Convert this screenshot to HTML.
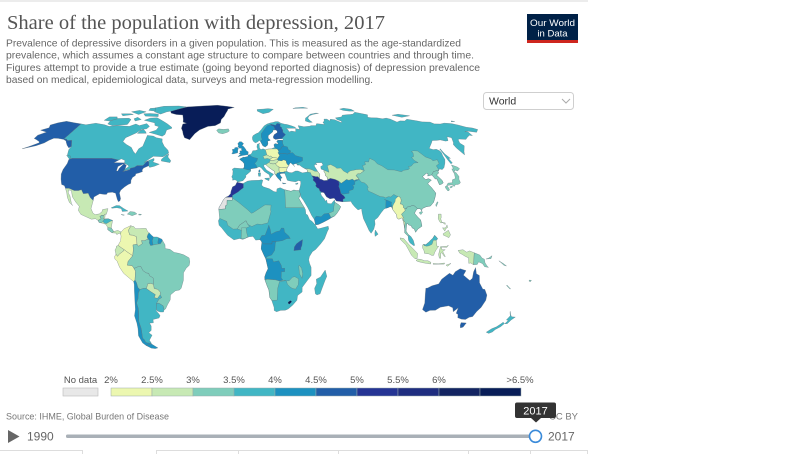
<!DOCTYPE html>
<html><head><meta charset="utf-8"><title>Share of the population with depression, 2017</title>
<style>html,body{margin:0;padding:0;background:#fff;}svg{display:block;}</style></head>
<body>
<svg id="root" width="800" height="454" viewBox="0 0 800 454" xmlns="http://www.w3.org/2000/svg" font-family="'Liberation Sans', sans-serif">
<rect width="800" height="454" fill="#fff"/>
<rect x="0" y="0" width="588" height="2" fill="#ececec"/>
<g id="map" stroke="#5d6d75" stroke-width="0.4" stroke-opacity="0.75" stroke-linejoin="round"></g>
<text x="7" y="29" font-family="'Liberation Serif', serif" font-size="20" fill="#555" textLength="378" lengthAdjust="spacingAndGlyphs">Share of the population with depression, 2017</text>
<g font-size="10.5" fill="#666">
<text x="6" y="46.5" textLength="455" lengthAdjust="spacingAndGlyphs">Prevalence of depressive disorders in a given population. This is measured as the age-standardized</text>
<text x="6" y="58.7" textLength="468" lengthAdjust="spacingAndGlyphs">prevalence, which assumes a constant age structure to compare between countries and through time.</text>
<text x="6" y="70.9" textLength="474" lengthAdjust="spacingAndGlyphs">Figures attempt to provide a true estimate (going beyond reported diagnosis) of depression prevalence</text>
<text x="6" y="83.1" textLength="367" lengthAdjust="spacingAndGlyphs">based on medical, epidemiological data, surveys and meta-regression modelling.</text>
</g>
<rect x="527" y="14" width="51" height="29" fill="#002147"/>
<rect x="527" y="40" width="51" height="3" fill="#ce261e"/>
<text x="552.5" y="26" font-size="9.5" fill="#fff" text-anchor="middle" textLength="45" lengthAdjust="spacingAndGlyphs">Our World</text>
<text x="552.5" y="36.5" font-size="9.5" fill="#fff" text-anchor="middle">in Data</text>
<rect x="483.5" y="92.5" width="90" height="17" rx="3" fill="#fff" stroke="#cfcfcf"/>
<text x="489" y="104.5" font-size="10.5" fill="#333">World</text>
<polyline points="562,99 566,103 570,99" fill="none" stroke="#aaa" stroke-width="1"/>
<g font-size="9.5" fill="#555" text-anchor="middle">
<text x="80.5" y="383">No data</text>
<text x="111" y="383">2%</text>
<text x="152" y="383">2.5%</text>
<text x="193" y="383">3%</text>
<text x="234" y="383">3.5%</text>
<text x="275" y="383">4%</text>
<text x="316" y="383">4.5%</text>
<text x="357" y="383">5%</text>
<text x="398" y="383">5.5%</text>
<text x="439" y="383">6%</text>
<text x="520" y="383">&gt;6.5%</text>
</g>
<rect x="63" y="388" width="35" height="8" fill="#e8e8e8" stroke="#bbb" stroke-width="0.6"/>
<g stroke="#9aa" stroke-width="0.5">
<rect x="111" y="388" width="41" height="8" fill="#ecf7b0"/>
<rect x="152" y="388" width="41" height="8" fill="#c7e9b4"/>
<rect x="193" y="388" width="41" height="8" fill="#7fcdbb"/>
<rect x="234" y="388" width="41" height="8" fill="#41b6c4"/>
<rect x="275" y="388" width="41" height="8" fill="#1d91c0"/>
<rect x="316" y="388" width="41" height="8" fill="#225ea8"/>
<rect x="357" y="388" width="41" height="8" fill="#253494"/>
<rect x="398" y="388" width="41" height="8" fill="#1f2d80"/>
<rect x="439" y="388" width="41" height="8" fill="#132462"/>
<rect x="480" y="388" width="41" height="8" fill="#081d58"/>
</g>
<text x="6" y="419.5" font-size="9.5" fill="#777" textLength="163" lengthAdjust="spacingAndGlyphs">Source: IHME, Global Burden of Disease</text>
<text x="578" y="419.5" font-size="9.5" fill="#777" text-anchor="end">CC BY</text>
<rect x="515" y="402.5" width="41" height="15.5" rx="2" fill="#333"/>
<polygon points="531,418 541,418 536,422.5" fill="#333"/>
<text x="535.5" y="414.5" font-size="11" fill="#fff" text-anchor="middle">2017</text>
<polygon points="8,430 8,443 19.5,436.5" fill="#666"/>
<text x="27" y="440.5" font-size="12" fill="#666">1990</text>
<rect x="66" y="434.5" width="466" height="3.5" rx="1.5" fill="#a9b0b7"/>
<circle cx="535.5" cy="436.3" r="6" fill="#fff" stroke="#3a8ad9" stroke-width="1.6"/>
<text x="548" y="440.5" font-size="12" fill="#666">2017</text>
<g stroke="#ddd" stroke-width="1">
<line x1="0" y1="450.5" x2="82" y2="450.5"/>
<line x1="156" y1="450.5" x2="588" y2="450.5"/>
<line x1="82.5" y1="450" x2="82.5" y2="454"/>
<line x1="156.5" y1="450" x2="156.5" y2="454"/>
<line x1="238.5" y1="450" x2="238.5" y2="454"/>
<line x1="338.5" y1="450" x2="338.5" y2="454"/>
<line x1="468.5" y1="450" x2="468.5" y2="454"/>
<line x1="530.5" y1="450" x2="530.5" y2="454"/>
<line x1="587.5" y1="450" x2="587.5" y2="454"/>
</g>
</svg>
<script>
(function(){
var XT=[1,.9986,.9954,.99,.9822,.973,.96,.9427,.9216,.8962,.8679,.835,.7986,.7597,.7186,.6732,.6213,.5722,.5322];
var YT=[0,.062,.124,.186,.248,.31,.372,.434,.4958,.5571,.6176,.6769,.7346,.7903,.8435,.8936,.9394,.9761,1];
function P(lon,lat){var a=Math.abs(lat)/5;var i=Math.min(17,Math.floor(a));var f=a-i;var xx=XT[i]+(XT[i+1]-XT[i])*f;var yy=YT[i]+(YT[i+1]-YT[i])*f;return [246+1.62*xx*lon,248-147.9*yy*(lat<0?-1:1)];}
var C={1:'#ecf7b0',2:'#c7e9b4',3:'#7fcdbb',4:'#41b6c4',5:'#1d91c0',6:'#225ea8',7:'#253494',8:'#1f2d80',9:'#132462',10:'#081d58',w:'#ffffff',g:'#e3e3e3'};
var F=[
[10,[-73,78.4,-66,80.2,-60,82,-45,82.8,-30,83.6,-20,82.5,-12,81.5,-18,80,-18,79,-19,77,-20,74.5,-22,72.5,-22,70.2,-26,68.5,-32,68,-38,65.8,-41,63.5,-43.5,59.8,-45,60.2,-48,61,-50,63,-51.5,65,-53.5,66.8,-54,69.5,-51,70,-54.6,70.8,-55.6,72.5,-58.5,75.6,-65,76,-70.8,77]],
[6,[-141,69.6,-148,70.3,-156.8,71.3,-161.9,70.3,-166,68.9,-163.7,67.1,-168,65.6,-161,64.4,-165,62.5,-164.5,60.5,-162,59.9,-158,58.7,-157,58,-161.5,55.8,-164.8,54.5,-157,56.3,-153,57.9,-151.5,59.5,-149.5,60.7,-146,60.6,-141,60,-138,59.1,-136.5,58.1,-134,56.5,-131,55,-130,55.9,-134,59.5,-137,59.3,-139,60.2,-141,60.3]],
[4,[-141,69.6,-136,69,-129,70,-120,69,-115,68,-108,68.5,-98,68,-94,69.5,-90,68.5,-85,69.8,-81,68,-82,66.5,-86,66,-88,64,-94,61,-94,58.7,-90,57,-85,55.3,-82,53,-79.5,51.5,-79,54.5,-77,56,-77.5,60,-78,62.4,-73,62,-70,61,-65,60.3,-64,58.5,-61,56,-57,53.6,-55.8,52,-59,50,-66,50.2,-71,46.8,-65,49,-64.5,48,-65,47,-61,46,-60,45.8,-63,44.6,-66,44,-67,44.9,-67.8,47.1,-69.2,47.4,-71,45,-75,45,-76.5,44,-79,43.5,-79,42.8,-82.5,42,-83,42.3,-82.4,43,-82.5,45.3,-84.5,46.5,-89,48,-95,49,-123,49,-124.5,49,-125.5,50,-128,51,-130,54,-130,55.9,-134,59.5,-137,59.3,-139,60.2,-141,60.3]],
[4,[-61.5,66.8,-65,65.7,-64.5,63,-66,61.9,-71.5,63,-78,64.2,-73.5,65.6,-73,67.8,-77,68.6,-78.5,70.2,-89.5,72,-86,73.5,-80,73.7,-76,72.5,-71,70.9,-67,69.5,-62,67.4]],
[4,[-61,82,-70,82.8,-85,82.5,-92,81,-90,79.5,-88,78,-80,76.3,-76,78,-72,78.6,-65,80.8]],
[4,[-88,78.5,-95,79,-96,80.6,-91,81]],
[4,[-80,74.5,-92,74.8,-96,76.5,-90,76.7,-82,76.3]],
[4,[-101,69.2,-113,68.5,-118,69.5,-119,71.5,-115,73.2,-105,73.4,-102,72.5,-101,70]],
[4,[-120,71.5,-125,72,-124,74.3,-117,74.3,-115,73]],
[4,[-105,76,-113,75,-117,76.5,-108,76.5]],
[4,[-100,76,-96,78,-104,79,-110,78]],
[4,[-98,74,-100,73,-97,71.5,-93,72.5]],
[4,[-80,63.7,-87,63.6,-86,65.5,-84,66,-81,64.5]],
[4,[-59.3,47.6,-53,46.7,-52.7,47.7,-55.5,49.8,-55.6,51.5,-57.3,50.7,-59.5,48.5]],
[4,[-123.3,48.3,-125,48.9,-128.4,50.8,-125,50.3]],
[6,[-124.7,48.4,-123,49,-95,49,-89,48,-84.5,46.5,-82.5,45.3,-82.4,43,-83,42.3,-82.5,42,-79,42.8,-79,43.5,-76.5,44,-75,45,-71,45,-69.2,47.4,-67.8,47.1,-67,44.9,-70,43.7,-70.6,42.6,-70,41.7,-72,41,-74,40.5,-74,39.5,-75.5,38.5,-76,37,-75.5,35.2,-77,34.6,-79,33.3,-81,31.5,-81.4,30,-80,27,-80.1,25.8,-81,25.2,-82,26.5,-82.8,28,-83.8,29.9,-86,30.4,-89,30.2,-89.5,29.2,-91,29.2,-94,29.6,-97.2,27.8,-97.2,25.9,-99.5,27.5,-101.4,29.8,-104.5,29.6,-106.5,31.8,-108.2,31.3,-111,31.3,-114.8,32.5,-117.1,32.5,-118.5,34,-120.6,34.6,-122.5,37.5,-124,40.3,-124.5,42.8,-124,46.2]],
[2,[-117.1,32.5,-114.8,32.5,-111,31.3,-108.2,31.3,-106.5,31.8,-104.5,29.6,-101.4,29.8,-99.5,27.5,-97.2,25.9,-97.7,21.5,-96,19,-94.5,18.2,-92,18.6,-90.5,19.8,-90.3,21,-87,21.5,-87.5,18.4,-88.3,18.5,-89.1,17.8,-90.5,17.8,-91.4,17.2,-90.4,16,-92.2,15,-94,16,-96.5,15.7,-100,17,-103.5,18.3,-105.5,20.5,-105.3,22.7,-108,25,-111,27.9,-112.8,31.3,-114.7,31.7,-114.3,30,-112.8,28.5,-110.5,24,-109.5,23.2,-112,24.8,-114.2,27.7,-115.2,30]],
[2,[-92.2,15,-90.4,16,-91.4,17.2,-90.5,17.8,-89.1,17.8,-88.3,18.5,-88.2,16.5,-88.9,15.9,-86,15.9,-83.2,15,-83.5,12.5,-83.6,10.9,-82,9,-79.5,9.6,-77.4,8.7,-77.8,7.5,-78.4,8.1,-80,7.3,-80.5,8.1,-83,8.3,-85.7,10,-85.8,11.2,-87.3,12.9,-89.3,13.5,-91.4,13.9]],
[3,[-92.2,15,-90.4,16,-91.4,17.2,-90.5,17.8,-89.2,17.8,-89.2,15.9,-88.2,15.7,-89.2,14.4,-90,13.8,-91.4,13.9]],
[4,[-89.2,14.4,-88.2,15.7,-86,15.9,-83.2,15,-84.7,14.5,-86.8,13.3,-87.8,13.4]],
[3,[-83.6,10.9,-82,9,-83,8.3,-85.7,10,-85.8,11.2]],
[4,[-85,21.9,-82,23.2,-80,23.1,-77,21.5,-74.2,20.2,-77.7,19.9,-78.5,21.5,-81.5,22,-84.5,21.7]],
[3,[-74.4,18.5,-72.8,19.9,-69.9,19.6,-68.4,18.6,-71.3,17.6,-72.8,18.1]],
[3,[-78.3,18.4,-76.2,18,-77,17.8]],
[3,[-67.2,18.5,-65.6,18.4,-65.8,18,-67.2,18]],
[1,[-77.4,8.7,-75.6,10.6,-74,11.2,-71.3,12.4,-72.2,11,-72.9,9.6,-72,7.2,-70,7,-67.8,6.2,-67.3,2,-69.8,1.7,-69.5,-1,-70,-4.2,-72.9,-2.5,-75.2,-0.9,-77.4,0.4,-79,1.5,-77.5,3.9,-77.3,6.6,-77.8,7.5]],
[2,[-72,11.1,-71.4,11.7,-70,11.9,-68.5,10.5,-66,10.6,-64,10.7,-62,10.7,-61,9,-60,8.3,-60.7,7.3,-61.2,6,-60.5,4.9,-62.8,4,-63.3,3.9,-64.6,4.1,-64,2.4,-66.3,0.9,-67.3,2,-67.8,6.2,-70,7,-72,7.2,-72.9,9.6]],
[5,[-60,8.3,-58.5,7,-57.2,6,-57.9,4,-57.3,1.3,-58.9,1.3,-59.8,2.8,-59.6,4,-60.5,4.9,-61.2,6,-60.7,7.3]],
[4,[-57.2,6,-55,6,-54,5.6,-54.4,3,-54,2.2,-56,1.9,-57.3,1.3,-57.9,4]],
[5,[-54,5.6,-52,4.8,-51.6,4.1,-52.8,2.3,-54,2.2,-54.4,3]],
[2,[-80,1,-78.9,1.4,-77.4,0.4,-75.2,-0.9,-75.6,-1.6,-78.3,-3.4,-79.4,-4.6,-80.3,-3.4,-80.9,-1.1,-80.1,0]],
[1,[-81.3,-4.7,-80.3,-3.4,-79.4,-4.6,-78.3,-3.4,-75.6,-1.6,-75.2,-0.9,-72.9,-2.5,-70,-4.2,-73,-7.3,-73.5,-9.4,-70.6,-9.6,-69.6,-11,-68.7,-12.6,-69,-15,-69.5,-17.5,-70.4,-18.3,-72.5,-16.8,-76.2,-13.8,-78.4,-10.5,-79.8,-7.2,-81.1,-6]],
[3,[-69.6,-11,-68.7,-12.6,-69,-15,-69.5,-17.5,-68.7,-19,-68.2,-21.5,-67,-22.7,-65,-22.1,-62.8,-22,-62.3,-21,-61.8,-19.6,-59.9,-19.3,-58.2,-19.8,-58,-16.3,-60.2,-15.1,-60.5,-13.8,-62.1,-13.5,-64,-12.4,-65.3,-10,-66.6,-9.9,-68,-10.7]],
[3,[-73,-7.3,-70,-4.2,-69.5,-1,-69.8,1.7,-67.3,2,-66.3,0.9,-64,2.4,-64.6,4.1,-62.8,4,-60.5,4.9,-59.6,4,-59.8,2.8,-58.9,1.3,-56,1.9,-54,2.2,-52.8,2.3,-51.6,4.1,-50,1.8,-49.9,-0.3,-47,-0.7,-44.4,-2.4,-41.5,-2.9,-38.5,-3.7,-35.2,-5.4,-34.8,-7.5,-35.2,-9.5,-37.1,-11,-38.9,-13.5,-39.2,-17.6,-40.9,-21.9,-42,-22.9,-44.6,-23.3,-48,-25.6,-48.5,-28.3,-50.7,-31,-52.3,-33.2,-53.4,-33.7,-53.6,-31.5,-56,-30.1,-57.6,-30.2,-55.8,-28,-53.8,-27,-54.6,-25.6,-54.3,-24.1,-55.7,-22.6,-57.9,-22.1,-58.2,-19.8,-58,-16.3,-60.2,-15.1,-60.5,-13.8,-62.1,-13.5,-64,-12.4,-65.3,-10,-66.6,-9.9,-68,-10.7,-69.6,-11,-70.6,-9.6,-73.5,-9.4]],
[2,[-62.8,-22,-62.3,-21,-61.8,-19.6,-59.9,-19.3,-58.2,-19.8,-57.9,-22.1,-55.7,-22.6,-54.3,-24.1,-54.6,-25.6,-56.5,-27.5,-58.6,-27.1,-57.6,-25.4,-60,-24,-62.6,-22.3]],
[4,[-57.6,-30.2,-56,-30.1,-53.6,-31.5,-53.4,-33.7,-54,-34.9,-56,-34.9,-57.8,-34.4,-58.4,-33.1]],
[4,[-67,-22.7,-65,-22.1,-62.8,-22,-62.6,-22.3,-60,-24,-57.6,-25.4,-58.6,-27.1,-56.5,-27.5,-54.6,-25.6,-53.8,-27,-55.8,-28,-57.6,-30.2,-58.4,-33.1,-58.5,-34.5,-57.3,-35.9,-56.7,-36.9,-57.8,-38.2,-62,-39,-62.3,-40.8,-65,-41,-64.4,-42.6,-65.3,-45,-67.5,-46.3,-65.8,-47.7,-69,-50.5,-68.4,-52.3,-71.5,-52,-72.3,-51.5,-72.5,-50,-73.3,-49.5,-71.8,-44,-71.9,-40,-70.6,-36,-70,-33,-70.4,-30,-69,-27.5,-68.2,-24.4]],
[5,[-70.4,-18.3,-69.5,-17.5,-68.7,-19,-68.2,-21.5,-67,-22.7,-68.2,-24.4,-69,-27.5,-70.4,-30,-70,-33,-70.6,-36,-71.9,-40,-71.8,-44,-73.3,-49.5,-72.5,-50,-72.3,-51.5,-71.5,-52,-68.4,-52.3,-70,-52.9,-73,-53.5,-74.7,-52,-75.5,-48,-74,-44,-73.5,-41,-73.7,-37,-72,-33.5,-71.4,-30,-70.6,-23.5,-70.2,-20]],
[5,[-68.6,-52.6,-65.1,-54.9,-67.3,-55.3,-70,-55,-73,-53.5,-70,-52.9]],
[4,[-5.6,36,-2,36.7,0,38.7,-0.3,39.5,3.2,41.9,3,43.3,4.5,43.4,7.5,43.8,9,44.4,10.3,43.9,12.5,41.7,15.6,40,16,38,17,39,18.5,40.2,17,41,14,42.5,12.3,44.5,12.4,45.5,13.7,45.6,15,44.5,18,42.6,19.4,41.8,19.3,40.4,21,38.3,23,36.5,22.9,38,24,38.2,23,39.5,22.6,40.5,24,40.7,26,40.8,26.3,40,26.8,38.5,27.3,37,28.3,36.7,30.5,36.3,32.8,36.1,34.6,36.8,36,36.5,35.9,35.3,35.5,33.9,35,32.8,34.3,31.2,34.9,29.5,35,28,36.5,26,39,22,40,20,41.2,17.6,42.7,15.5,43.3,12.7,45,12.8,48,14,52,15.8,55.5,17.5,57,18.9,58.8,21,59.8,22.5,58.6,23.6,56.4,24.9,56.3,26.2,55.5,25.5,54,24.1,51.6,24.3,51.3,26.1,50.2,25.6,50,26.6,48.4,28.5,47.9,29.9,48.9,30.4,50.2,30.2,51.5,27.9,53.5,26.9,56.3,27.2,57.4,25.7,61.6,25.2,66.6,25.4,67.4,24,68.8,22.3,70.5,20.8,72.8,21.5,72.9,19,73.4,16,74.5,13.5,76.3,9.5,77.5,8,78.2,8.9,79.3,10.3,80.3,13,80.2,15.2,82.3,16.6,84.8,19.2,86.9,21.2,88.2,21.7,89.5,22,90.6,22.4,91.8,22.6,92.5,20.7,94.3,18.2,94.4,16.3,95.4,15.7,97.6,16.5,98.2,13.5,98.5,10.5,98.3,8.3,100.3,6.5,100.4,4.2,101.3,2.8,103.5,1.3,104.2,1.4,103.4,4.2,102.1,6.2,100.4,7.4,99.2,9.2,99.9,12.8,100.1,13.4,100.9,13.2,101.1,12.6,102.6,12.2,103.2,10.9,104.4,10.4,105.1,8.6,106.7,10.4,109.3,11.9,109.2,13.4,108.9,15.3,107.2,17,105.7,18.9,106.6,20.2,108,21.5,109.8,21.4,110.5,20.3,111,21.5,113.8,22.5,116.5,22.9,119,25,121,28,122,29.9,121.5,31,120.5,33,119,35,120.6,36.1,122.5,37,121,37.8,118.9,37.3,118,38.3,117.7,39,119.5,39.9,121.3,40.8,122.3,40.5,121.4,39.3,123.5,39.7,124.5,39.8,125.4,37.7,126.5,37.7,126.5,34.5,127.8,34.8,129.4,35.5,129.5,36.8,128.3,38.6,127.5,39.8,129.7,40.9,129.7,41.6,130.7,42.3,132,43.2,133.5,42.8,135.5,43.9,138.2,46.4,140,48.4,140.4,50.5,141.4,52.2,141.4,53.3,139.9,54.2,137.2,54,135.1,54.7,137.3,56,140.5,57.8,143,59.3,146.5,59.4,149.8,59.7,152.8,59,155,59.2,158,61.7,160.5,61,157.5,58,156,57,155.5,55,156.7,51,158.5,52.9,160,54,162,55.5,163,56.2,162,57.8,163.6,59.7,165,60.2,170,60,172.5,61,177,62.5,179,62.3,179.5,64.5,177.5,64.8,180,65,186,64.3,190.3,66,188,67,184,67.5,180,68.8,176,69.8,170.5,70.1,166,69.5,161,69.6,159.7,70.8,153,70.9,150,71.6,143,72.7,139,71.5,135,71.6,131,70.8,128.5,72.8,126,73.5,122,73,118,73.6,113,73.7,110,74,112.8,75.8,107,77,104,77.7,100,76.3,97,76,94.5,75.9,89,75.5,86.8,74.3,80.5,73.6,80.6,72.5,83.5,71.4,82.5,70.4,78.5,72.4,75,72.7,73.5,71.5,72,72.8,69.5,72.8,68.5,71.5,66.5,70.5,67,69.2,65,69.3,60.5,69.8,59,68.5,55,68.5,53.5,68.1,48.5,67.8,44,68.5,44.2,66,41,66.6,40.2,64.6,37,65,34.8,64.5,34.5,65.9,33,66.7,36,66.8,41,66.8,41.1,67.4,38.5,68.3,35,69.2,33,69.4,30,70,28,71.1,25.7,71.1,23.5,70.6,21,70.2,18,69.5,15.4,68.4,14.7,67.8,12.5,65.9,10,64,8,63.4,5.6,62.3,5,61.3,5,60,5.6,58.9,7,58,8.4,58.3,10.4,59.4,11,58.9,11.7,57.7,12.6,56.2,14.3,55.6,16,56.5,16.6,57.7,16.5,59,18.8,59.5,17.2,60.7,17.5,62.3,20,63.7,21.5,64.5,22.2,65.8,24.5,65.8,25.4,65,25.3,64.1,22.5,62.9,21.5,61.7,21.4,60.7,22.9,60,26,60.4,29,60.2,28.2,59.4,26,59.5,24.3,59.4,23.4,58.5,24.4,57.9,24,57.1,22,57.5,21,56.8,21.1,56,21.3,55.2,19.9,54.9,18.6,54.4,16,54.3,14.2,53.9,12.5,54.5,11,54,10,54.9,9.9,57.1,10.6,57.7,8.5,57.1,8.1,55.5,8.7,54,7,53.5,5,53.4,4.2,52,3.2,51.3,1.6,50.9,1.4,50.1,-1.3,49.6,-1.9,49.7,-4.6,48.6,-2.2,47.1,-1.2,46,-1.2,44.3,-1.8,43.4,-4,43.4,-8,43.7,-9.3,43,-8.8,41.9,-8.9,40,-9.5,38.8,-8.8,37.9,-8.9,37,-7.4,37.2,-6.4,36.9]],
[4,[-5.9,35.8,-2,35.1,1,36.5,3.5,36.8,8.6,36.9,10.2,37.2,11.1,36.9,10.1,34.3,11.4,33.3,15.2,32.3,17.9,30.8,19.7,30.5,20.1,32.3,22.2,32.9,25,31.8,29,30.9,31,31.6,32.3,31.3,34.2,31.3,34.9,29.5,34.3,27.8,32.6,29.9,33.6,27.2,35.5,24,37.4,21,37.5,18.6,38.5,18,39.6,15.5,41.2,14.5,43.3,12.4,44.5,10.4,46,10.7,51.1,11.9,51.3,10.4,50.5,9.2,48.5,5,46,2.2,43,-0.8,41,-2,39.2,-4.7,38.8,-6.5,39.4,-8.5,40.4,-10.5,40.6,-15,38.5,-17.6,35.4,-21.5,35.5,-24,32.8,-25.9,32.6,-28.5,30.1,-31.2,27.5,-33.2,25.6,-33.9,22.5,-34,20,-34.8,18.4,-34.1,18.2,-32.4,16.5,-28.6,15.2,-27,14.5,-22.9,13.4,-20.9,11.8,-17.3,11.7,-15.8,12.5,-13.5,13.7,-11.3,12.3,-6.1,12.2,-5.8,11.1,-3.9,9.4,-0.5,9.5,1,9.8,3,9.4,3.9,8.5,4.5,6,4.3,4.3,6.3,1.9,6.1,-2,4.7,-4,5.2,-7.5,4.4,-9.3,5.6,-11.4,6.9,-13.2,8.9,-15,10.9,-16.7,12.4,-17.2,14.9,-16.5,16.2,-16.1,18.1,-16.3,19.6,-17.1,21,-16.9,22.3,-15.9,23.7,-14.4,26.3,-13.1,27.6,-11.4,28.2,-9.8,29.6,-9.6,30.9,-8.7,33.3,-6.9,34.1]],
[7,[-5.9,35.8,-2,35.1,-1.7,34.9,-1.7,32.8,-3.7,31.6,-5,30.6,-8.7,28.7,-8.7,27.7,-13.1,27.6,-11.4,28.2,-9.8,29.6,-9.6,30.9,-8.7,33.3,-6.9,34.1]],
['g',[-13.1,27.6,-14.4,26.3,-15.9,23.7,-16.9,22.3,-17.1,21,-13,21.3,-13,23,-12,23.5,-12,26,-8.7,26,-8.7,27.7]],
[3,[-17.1,21,-16.5,16.2,-12,14.5,-11.4,12.4,-8,10.3,-5.4,10.4,-4,12.5,0,14.9,1,13,3.6,11.7,7,13.1,9.6,12.8,13.6,13.7,15.7,19.9,15.5,20.8,15.9,23.4,12,23.5,4.3,19.2,3.3,19,1.2,20.7,-4.8,25,-8.7,27.3,-8.7,26,-12,26,-12,23.5,-13,23,-13,21.3]],
[3,[-5.4,10.4,-2.8,9.6,0.4,11,2.2,11.7,1,13,0,14.9,-4,12.5]],
[3,[-3,5,-1,5,1.2,6.1,0.5,8,0,11,-2.8,11,-2.8,9.6]],
[3,[25,31.8,29,30.9,31,31.6,32.3,31.3,34.2,31.3,34.9,29.5,34.3,27.8,33.6,27.2,35.5,24,36.9,22,25,22,25,29.2]],
[5,[8.5,4.5,9.4,3.9,9.8,3,11.3,2.2,16,2.2,16.2,3.6,18.5,3.5,22.4,4,25.3,5.1,27.4,5.2,26.4,6.6,23.9,8.6,23.5,10.8,22,10.9,21,9.4,18.6,8.9,15.5,7.5,15.1,10,14.2,12.5,13.6,10.9,11.8,7,9.8,6.8,8.6,4.9]],
[5,[9.5,1,9.4,-0.5,11.1,-3.9,12.2,-5.8,13,-4.7,15.9,-3.8,17.7,-1.3,18.1,2.5,18.5,3.5,16.2,3.6,16,2.2,11.3,2.2,9.8,3]],
[5,[12.3,-6.1,13.7,-11.3,12.5,-13.5,11.7,-15.8,11.8,-17.3,13.4,-17,18.5,-17.4,21,-18,23.2,-17.6,22,-16.3,22,-13,24,-13,24,-11,22.2,-11.1,21.9,-9.5,20.3,-7,17,-7.6,16.3,-5.9,12.2,-5.8]],
[6,[29.6,-1.4,29.9,0.6,31.2,2.3,33.5,3.8,35,4.6,34.5,1.3,33.9,0.1,33.9,-1]],
[3,[11.8,-17.3,13.4,-17,18.5,-17.4,21,-18,23.2,-17.6,25,-17.8,21,-18.3,20,-22,20,-24.8,20,-28.4,16.5,-28.6,15.2,-27,14.5,-22.9,13.4,-20.9]],
[3,[25.3,-17.9,27,-17.9,29,-16,30.4,-15.6,32.9,-16.8,32.9,-20,31.3,-22.4,29.4,-22.1,28,-21.4,26,-19.8]],
[3,[33,-9.4,34.5,-11,35.3,-14,35,-16.5,33.3,-14,32.7,-10]],
[10,[27,-29.6,28.5,-28.6,29.4,-29.3,28,-30.6,27.3,-30.3]],
[4,[44,-25,43.3,-22,44.4,-19.5,44,-17,46.5,-15.8,49.2,-12,50.4,-15.5,49.5,-17.6,47.8,-22.5,47,-25,45.1,-25.6]],
[5,[-1.8,43.4,-1.2,44.3,-1.2,46,-2.2,47.1,-4.6,48.6,-1.9,49.7,-1.3,49.6,1.4,50.1,1.6,50.9,2.5,51.1,4.2,49.9,5.8,49.5,8.2,49,7.6,47.6,6,46.2,7,45.2,7.5,43.8,4.5,43.4,3,43.3,3.2,42.4,0.7,42.8]],
[1,[14.2,53.9,16,54.3,18.6,54.4,19.8,54.4,22.8,54.4,23.5,53.9,23.9,52.7,23.2,52.2,24.1,50.7,22.6,49.1,19.5,49.6,18.8,49.5,17.6,50.3,16.7,50.2,15,51,14.6,52.6]],
[2,[12.1,50.3,15,51,16.7,50.2,17.6,50.3,18.8,49.5,17,48.6,15,49,13,48.7]],
[1,[17,48.6,18.8,49.5,19.5,49.6,22.6,49.1,22.1,48.4,20,48.1,18.8,47.8,17.1,48]],
[2,[16.1,46.8,17.1,48,18.8,47.8,20,48.1,22.1,48.4,22.9,47.9,21.6,46.6,20.3,46.1,18.8,45.9,17,46.2]],
[1,[22.9,47.9,24.9,47.7,26.6,48.3,28.2,47.7,28.2,46.4,28.9,45.5,29.7,45.2,28.6,44.2,26.1,43.9,24,43.8,22.7,44.2,22,44.5,21,45.3,20.3,46.1,21.6,46.6]],
[2,[13.7,45.6,16.1,46.8,17,46.2,18.8,45.9,20.3,46.1,21,45.3,22,44.5,22.7,44.2,22.4,42.3,23,41.3,21,40.8,20.3,39.9,19.3,40.4,19.4,41.8,18,42.6,15,44.5]],
[1,[22.7,44.2,24,43.8,26.1,43.9,28.6,44.2,28,43.3,27.5,42.5,28,41.9,26.3,41.7,25,41.3,23,41.3,22.4,42.3]],
[5,[20.3,39.9,21,40.8,23,41.3,25,41.3,26.3,41.7,26,40.8,24,40.7,22.6,40.5,23,39.5,24,38.2,22.9,38,23,36.5,21,38.3,20.2,39.3]],
[5,[22.1,48.4,22.6,49.1,24.1,50.7,23.6,51.5,25.8,51.9,30,51.5,31.8,52.1,33.8,52.3,35.4,50.6,38.2,50,40.1,49.6,39.7,47.8,38.2,47.1,35,46.3,34.9,45.7,36.5,45.4,35.3,44.9,33.6,44.5,32.5,45.4,31,46.6,30,45.8,29.7,45.2,28.9,45.5,28.2,46.4,28.2,47.7,26.6,48.3,24.9,47.7,22.9,47.9]],
[5,[23.5,53.9,23.9,52.7,23.2,52.2,23.6,51.5,25.8,51.9,30,51.5,31.8,52.1,32.7,53.3,31,54,30.8,55.6,28.2,56.1,26.5,55.6,25.5,54.3]],
[5,[21.1,56,21,56.8,22,57.5,24,57.1,24.4,57.9,23.4,58.5,24.3,59.4,26,59.5,28.2,59.4,27.7,57.8,28.2,56.1,26.5,55.6,25.5,54.3,23.5,53.9,22.8,54.4,21.3,55.2]],
[5,[11,58.9,11.7,57.7,12.6,56.2,14.3,55.6,16,56.5,16.6,57.7,16.5,59,18.8,59.5,17.2,60.7,17.5,62.3,20,63.7,21.5,64.5,22.2,65.8,24,65.8,23.5,67.9,20.5,69.1,18,68.5,16.5,67.5,14.5,65.6,12.2,63.5,12,61.3,12.5,60,11.5,59.3]],
[6,[21.4,60.7,21.5,61.7,22.5,62.9,25.3,64.1,25.4,65,24.5,65.8,24,65.8,23.5,67.9,20.5,69.1,21.5,69.3,25,68.6,26.5,69.9,28.4,69.8,29.3,69.3,28.5,68.1,29.9,67.2,29.5,66.8,30.1,65.7,29.7,64.4,31.5,62.9,27.8,60.5,26,60.4,22.9,60]],
[2,[40,43.4,41.6,42.7,41.5,41.5,43.5,41.1,43.6,40.3,44,39.4,46.5,38.9,48,38.9,48.9,37.6,49,38.4,49.5,40.3,48.5,41.8,46.5,41.9,44.9,42.7,43,43.2]],
[7,[44,39.4,44.8,38,44.3,37,45.5,35.9,46,34.8,45.4,33.9,46.1,33,47.4,32.4,47.7,31,48.9,30.4,50.2,30.2,51.5,27.9,53.5,26.9,56.3,27.2,57.4,25.7,61.6,25.2,61.8,26.6,63.3,27.2,62.8,28.3,61,29.7,60.9,31.5,60.5,33.7,61,34.5,61.2,36.5,59,37.4,56,38,54,37.3,53.9,36.9,51.4,36.8,50,37.4,48.9,37.6,48,38.9,46.5,38.9]],
[5,[61.2,36.5,61,34.5,60.5,33.7,60.9,31.5,61,29.7,62.8,29.4,66.3,29.9,66.5,31.2,69.3,31.9,70.3,33.3,69.5,34,71.2,34.7,71.5,35.6,71.3,36.1,74.9,37.4,73,37.3,71.5,36.8,70.5,37.6,68,37,66.5,37.4,64.5,36.3,62.4,35.3]],
[2,[53,39.5,53.2,40.7,52.7,41.7,52.9,42.5,56,41.3,56,45,58.5,45.6,61,44.4,62,43.5,64.9,43.7,66,42,68.5,40.7,69,41.4,71,42.2,73.5,42.5,75,42.8,78,42.9,80.2,42.2,78,41.2,76.5,40.4,75,40.5,73.5,39.5,74.9,37.4,73,37.3,71.5,36.8,70.5,37.6,68,37,66.5,37.4,64.5,36.3,62.4,35.3,61.2,36.5,59,37.4,56,38,54,37.3,53.9,38.9]],
[3,[73.5,39.5,75,40.5,76.5,40.4,78,41.2,80.2,42.2,80.3,45,82.5,45.5,83,47.2,85.5,47,87.3,49.1,90,47.8,91,46,93.5,44.9,96.4,42.7,100.8,42.6,105,41.6,107,42.4,110.4,42.8,111.9,43.7,111.4,44.4,113.6,44.7,116.7,46.4,119.8,46.7,118,47.9,117.4,49.6,119.3,50.1,120.8,52.2,120.2,52.9,122.2,53.4,125.1,53.2,127.5,49.8,130.6,48.7,131,47.7,134.5,48.3,133.9,46.1,131,44.9,131.1,42.9,130.6,42.4,129.7,42.4,128,41.9,126.9,41.8,124.3,39.9,121.4,39.3,122.3,40.5,121.3,40.8,119.5,39.9,117.7,39,118,38.3,118.9,37.3,121,37.8,122.5,37,120.6,36.1,119,35,120.5,33,121.5,31,122,29.9,121,28,119,25,116.5,22.9,113.8,22.5,111,21.5,110.5,20.3,109.8,21.4,108,21.5,106.7,22.8,105.3,23.3,103.5,22.6,102.2,22.4,101.7,22.3,101.2,21.4,100.1,21.5,99.2,22.1,99.5,22.9,98.7,23.9,97.7,24,98.7,25.9,98.7,27.5,97.3,28.2,96.2,28.4,94.8,29.2,92.5,27.8,91.2,28,89,27.3,88.2,27.8,86,28,84.2,28.8,81.1,30.2,79,31,78.8,32.5,79.5,33,79,34.3,77.8,35.5,76,35.9,75,37.1,74.5,38.6]],
[3,[124.3,39.9,126.9,41.8,128,41.9,129.7,42.4,130.6,42.4,129.7,41.6,129.7,40.9,127.5,39.8,128.3,38.6,129.5,36.8,129.4,35.5,127.8,34.8,126.5,34.5,126.5,37.7,125.4,37.7,124.5,39.8]],
[5,[88.1,22,89.1,26.2,88.1,26.4,89.8,26,92.4,25,92,24,92.3,21.4,91.8,22.6,90.6,22.4,89.5,22,88.2,21.7]],
[1,[92.3,21.4,92.6,22.7,93.4,23.9,94.6,25.2,95.2,26.7,97.4,28.2,98.7,27.5,98.7,25.9,97.7,24,98.7,23.9,99.5,22.9,99.2,22.1,100.1,21.5,100.1,20.4,97.5,18.4,98.6,16.3,98.2,15.1,99.1,13.9,98.6,11.7,98.5,10.5,98.2,13.5,97.6,16.5,95.4,15.7,94.4,16.3,94.3,18.2,92.5,20.7]],
[3,[100.1,21.5,101.2,21.4,101.7,22.3,102.2,22.4,103.5,22.6,105.3,23.3,106.7,22.8,108,21.5,106.6,20.2,105.7,18.9,107.2,17,108.9,15.3,109.2,13.4,109.3,11.9,106.7,10.4,105.1,8.6,104.4,10.4,103.2,10.9,102.6,12.2,101.1,12.6,100.9,13.2,100.1,13.4,99.9,12.8,99.2,9.2,100.4,7.4,101,6.9,100.3,6.5,98.3,8.3,98.5,10,98.6,11.7,99.1,13.9,98.2,15.1,98.6,16.3,97.5,18.4,100.1,20.4]],
[5,[42.7,15.5,43.3,12.7,45,12.8,48,14,52,15.8,53.1,16.7,52,19,49,18.6,47,17,44,17.4,43.2,16.7]],
[3,[52,19,53.1,16.7,55.5,17.5,57,18.9,58.8,21,59.8,22.5,58.6,23.6,56.4,24.9,56,24,55.5,22.7,55,20]],
[5,[-5.7,50,-3,50.6,1.4,51.2,1.7,52.7,0.3,53.4,-0.2,54.2,-1.5,55.5,-2,56,-3,56.3,-1.8,57.5,-3.5,58.6,-5,58.6,-6.2,57.5,-5.6,56.3,-6,55.7,-4.8,54.8,-3.2,54.8,-3.4,54.3,-3,53.4,-4.5,53.3,-4.2,52.3,-5.1,51.7,-3.2,51.4,-4.3,51.2]],
[5,[-6,52.2,-6,53.9,-5.5,54.5,-6.2,55.2,-7.3,55.3,-8.3,55.1,-8.5,54.3,-10,54.2,-9.8,53.3,-9.5,52.6,-10.3,51.9,-9.5,51.5,-8,51.8]],
[3,[-22,63.9,-24,65.5,-22.5,66.4,-18.5,66.1,-14.5,66.4,-13.6,65.1,-15,64.3,-18.7,63.4]],
[4,[11,78.5,16,76.6,22,77.5,27,79.8,22,80.4,17,80,11,79.7]],
[4,[52,71.5,55,70.6,57.5,70.7,56,72,55.5,73.5,58,75,62,76,68.5,76.9,66,77,60,76.2,56,74.5,53.5,73.5]],
[4,[47,80.5,55,80.8,62,80.8,58,81.6,50,81.2]],
[4,[95,79,100,78.5,105,78.5,104,79.8,98,80.8,93,80]],
[4,[135,75.5,141,74,150,75,142,76.2]],
[4,[178.5,71,182,71.2,180,71.6]],
[4,[12.4,38,15.6,38.2,15.1,36.7,12.8,37.6]],
[4,[8.4,39.1,9.6,39.1,9.8,41,8.2,40.9]],
[5,[8.6,41.4,9.4,41.4,9.5,42.8,8.6,42.3]],
[5,[23.6,35.5,26.3,35.2,24.7,34.9]],
[4,[32.3,35,34.1,35.5,33.9,34.9,32.7,34.6]],
[4,[79.9,6.3,81.8,7.5,80.2,9.8,79.8,8]],
[3,[130.9,34,132.5,35.4,135.5,35.6,136.5,37.2,139,37.9,140,40.5,140,41.3,141.5,41.2,142,39,141,37.5,140.8,35.7,139.8,35,138.5,34.6,137,34.6,135.5,33.5,135,34.6,133,34.3]],
[3,[129.7,33.5,131.2,33.9,131.8,32,131,31.2,130.2,31.3,129.6,32.7]],
[3,[132.5,33.2,134.7,34,134.2,33.2,133,32.7]],
[3,[140,41.5,141.2,41.8,141.9,42.6,143.3,42,145.7,43.3,145,44.2,141.8,45.4,141.5,43.2,140.3,43.2]],
[4,[142,46,143.5,46.5,143,49,144.5,49,143,51.5,143,54.5,142.5,54.3,142,51,141.8,48]],
[3,[120.2,22.6,121.9,25,121.4,25.2,120,23.5]],
[3,[108.6,19.2,110.5,20,111,19.6,109.6,18.2]],
[2,[120.6,18.5,122.3,18.5,122,16.5,121.6,15.9,122,14,124,13.7,123.9,12.8,122.5,13.8,121.2,13.7,120.6,14.5,120,16]],
[2,[122,7.7,123.6,8.6,125.5,9.7,126.6,7.2,125.4,5.6,124,6.3,122.3,6.9]],
[2,[122,11,123.2,9.2,124,10.5,125.2,11.2,125,12.6,124,11,122.9,10.9]],
[2,[95.3,5.5,97.5,5.2,100.5,2,103.8,-1,106,-3,105.8,-5.8,104.5,-5.9,102.3,-4,100.3,-0.8,98.7,1.7,95.5,4.6]],
[2,[105.2,-6.8,106.2,-6,108.3,-6.2,110.5,-6.9,112.6,-6.9,114.5,-7.8,114.4,-8.7,110,-8.1,106.5,-7.4]],
[2,[109,1.5,109.6,2,111,1.8,113,3.2,114.5,4.6,115.5,5.3,116.7,6.9,117.7,6,118.5,5,117.6,4.2,117.9,1,119,0.9,117.5,-0.8,116.5,-2.5,116,-4,114.9,-4.1,113,-3.2,111,-3,110.2,-2.9,110,-1.6,109,0]],
[4,[109.6,2,111,1.8,113,3.2,114.5,4.6,115.5,5.3,116.7,6.9,117.7,6,118.5,5,117.6,4.2,115.8,4.3,114.9,2,113,1.2,111.5,1,110,1.3]],
[2,[119.5,-5.5,120.4,-5.6,120.3,-2.9,121,-2.6,122.5,-4.5,123.2,-4.7,121.5,-1.9,123,-0.9,121,-1,120.5,0.5,124,0.4,125,1.5,124,1,120,0.7,119.8,-0.1,119,-3.5]],
[2,[124,-9.3,127,-8.4,125,-10]],
[2,[116,-8.4,119,-8.6,123,-8.2,122.8,-8.8,116,-8.9]],
[2,[131,-1.3,134,-0.9,136.3,-2.3,138,-1.6,141,-2.6,141,-9.1,139,-8.1,138,-8.4,137.6,-5.4,135.2,-4.4,133.6,-3.5,132,-2.8]],
[3,[141,-2.6,144.5,-3.8,146,-5.5,147.5,-6.1,148,-8,149.3,-9.6,150.5,-10.6,148,-10.2,146.5,-8.5,144,-7.6,143.3,-9,141,-9.1]],
[3,[150,-5.5,152,-4.2,151.5,-5.8,148.5,-6]],
[3,[156.5,-7,159.5,-8.5,161.5,-9.8,160,-9.5]],
[3,[164,-20.2,167,-22.3,166.5,-22.3,164,-20.6]],
[3,[177.3,-17.5,178.7,-17.6,178.3,-18.3,177.4,-18.1]],
[6,[113.4,-22,114,-26,115,-30,115,-33.6,117.8,-35,120,-34,123.5,-33.9,126,-32.3,131,-31.5,134.2,-32.6,135.6,-34.8,137.8,-32.6,138,-35.6,139.6,-36.2,140.6,-38,143.5,-38.8,146.3,-39,148,-37.8,150,-37.4,150.8,-34.7,152.5,-32.4,153.6,-28.5,153.1,-25.7,150.8,-22.6,149.5,-22.4,146.5,-19,145.5,-15,143.5,-14,142.5,-10.7,141.6,-13,141.5,-16.5,140.2,-17.7,139,-17,135.5,-14.8,136.8,-12.3,133,-11.3,130.2,-12.9,129,-14.9,126.7,-13.8,125,-15,122.4,-17,121,-19.6,117,-20.6,114.6,-21.8]],
[6,[144.6,-40.7,148.3,-40.9,148,-43.2,146.5,-43.6,145.2,-42.2]],
[4,[172.7,-34.5,174.5,-36.5,175.9,-37.5,178.5,-37.7,177,-39.3,176.2,-41.3,174.6,-41.3,175.3,-39.5,173.8,-39.2,174.6,-37,173,-35.2]],
[4,[172.7,-40.5,174.3,-41.2,173.3,-43,171.2,-44.5,170.6,-45.9,169,-46.7,166.5,-46,168.3,-44.1,170.6,-43,172,-41.5]],
['w',[27.5,42.5,28,41.6,29.1,41.2,31,41.1,33.5,42,35.2,42,38,41,41.5,41.5,41.6,42.7,40,43.4,38.2,44.4,37,45.3,35.5,45.3,34.9,46.2,33,45.8,32.6,45.3,33.6,44.5,32.5,45.4,31,46.6,30,45.8,29.6,45,28.6,44.2,28,43.3]],
['w',[47,44.8,48.5,41.8,49.5,40.3,49,38.4,48.9,37.6,50,37.4,51.4,36.8,53.9,36.9,53.9,38.9,53,39.5,53.2,40.7,52.7,41.7,52.9,42.5,51.2,43.1,51.3,44.5,53.2,45.3,52.7,46.7,50,46.6,48.5,46.5,49,45.5,47.5,45.7]],
['w',[-92,46.7,-84.5,46.5,-85,47.9,-88,48.8,-89.5,48]],
['w',[-87.8,42,-88,44.5,-85,46,-84.8,45.8,-86.5,43.5,-86.8,42]],
['w',[-84.7,46,-82.5,45.3,-82.4,43,-80.5,44.5,-81.3,45.2,-84,46.2]],
['w',[-83.4,41.7,-79,42.8,-78.9,42.9,-81,42.6]]
];
var g=document.getElementById('map');var ns='http://www.w3.org/2000/svg';
for(var k=0;k<F.length;k++){var a=F[k][1];var s='';for(var i=0;i<a.length;i+=2){var p=P(a[i],a[i+1]);s+=(i?'L':'M')+p[0].toFixed(1)+','+p[1].toFixed(1);}s+='Z';
var el=document.createElementNS(ns,'path');el.setAttribute('d',s);el.setAttribute('fill',C[F[k][0]]);g.appendChild(el);}
})();
</script>
</body></html>
